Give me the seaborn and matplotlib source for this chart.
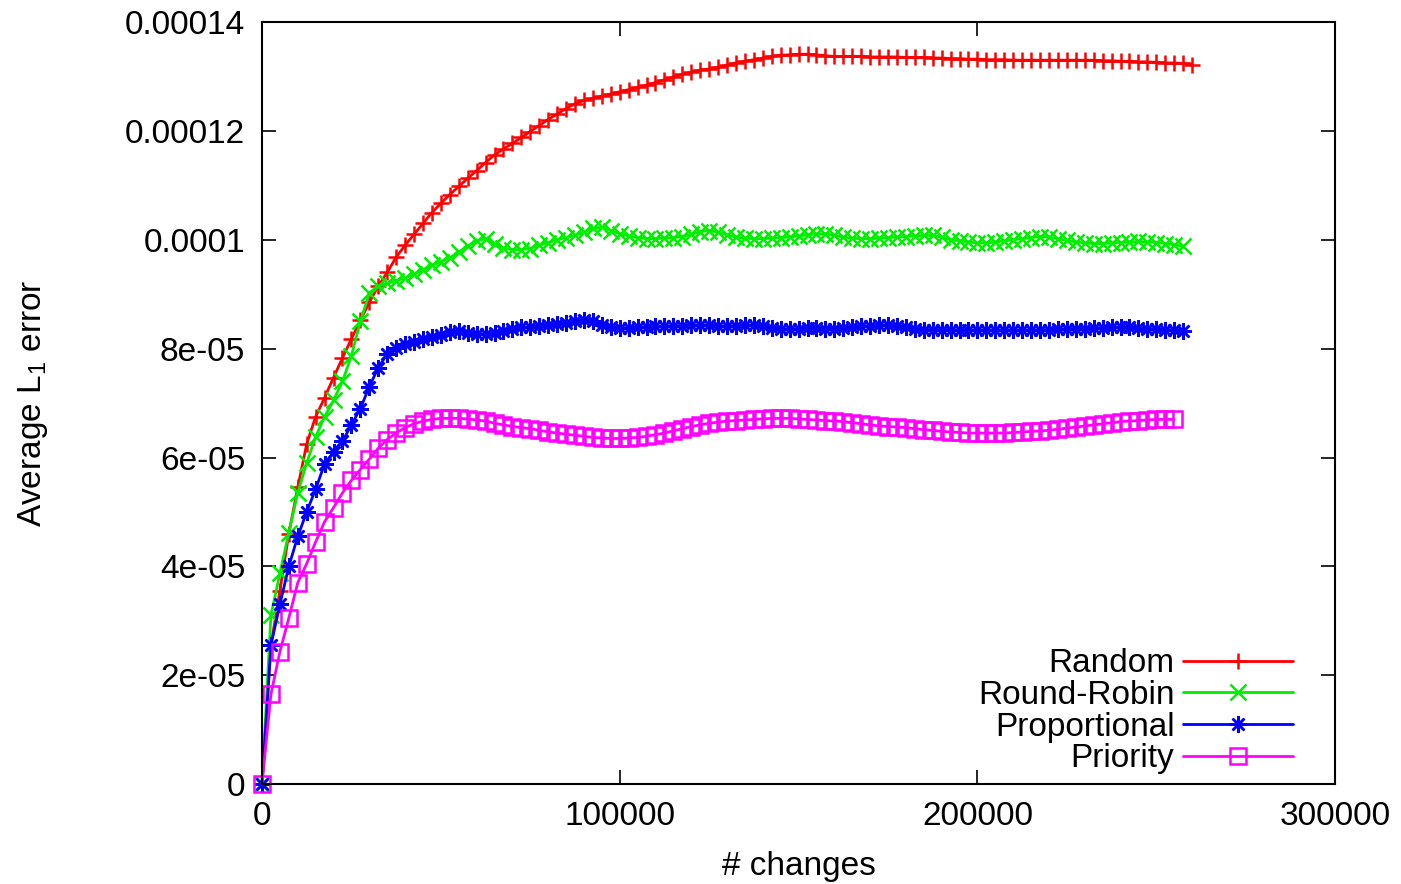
import numpy as np
import pandas as pd
import matplotlib
matplotlib.use("Agg")
import matplotlib.pyplot as plt
import seaborn as sns

# --- data (values in units of 1e-5, one point every 2500 changes) ---
STEP = 2500

random_vals = [
    0, 2.55, 3.55, 4.6, 5.45, 6.25, 6.75, 7.1, 7.47, 7.83,
    8.18, 8.52, 8.85, 9.15, 9.4, 9.68, 9.9, 10.1, 10.3, 10.5,
    10.67, 10.83, 10.98, 11.13, 11.27, 11.42, 11.56, 11.67, 11.77, 11.88,
    11.99, 12.1, 12.21, 12.31, 12.41, 12.5, 12.56, 12.6, 12.64, 12.68,
    12.72, 12.76, 12.8, 12.84, 12.89, 12.94, 12.99, 13.04, 13.08, 13.12,
    13.14, 13.17, 13.21, 13.25, 13.28, 13.31, 13.34, 13.37, 13.39, 13.40,
    13.41, 13.41, 13.40, 13.38, 13.37, 13.37, 13.37, 13.37, 13.36, 13.36,
    13.36, 13.36, 13.35, 13.35, 13.35, 13.34, 13.34, 13.33, 13.33, 13.32,
    13.32, 13.31, 13.31, 13.31, 13.30, 13.30, 13.30, 13.30, 13.30, 13.30,
    13.30, 13.30, 13.30, 13.30, 13.29, 13.29, 13.28, 13.28, 13.27, 13.27,
    13.26, 13.25, 13.25, 13.24, 13.22,
]

round_robin_vals = [
    0, 3.1, 3.87, 4.62, 5.35, 5.9, 6.38, 6.75, 7.05, 7.4,
    7.87, 8.5, 9.02, 9.15, 9.2, 9.25, 9.3, 9.37, 9.45, 9.53,
    9.6, 9.67, 9.77, 9.88, 9.98, 10.02, 9.92, 9.85, 9.82, 9.82,
    9.84, 9.9, 9.95, 10.0, 10.04, 10.08, 10.14, 10.21, 10.23, 10.17,
    10.11, 10.07, 10.04, 10.02, 10.02, 10.03, 10.04, 10.06, 10.1, 10.15,
    10.17, 10.14, 10.09, 10.05, 10.03, 10.02, 10.02, 10.03, 10.04, 10.05,
    10.07, 10.09, 10.11, 10.11, 10.08, 10.05, 10.03, 10.02, 10.02, 10.03,
    10.04, 10.05, 10.06, 10.07, 10.08, 10.08, 10.05, 10.0, 9.98, 9.96,
    9.94, 9.94, 9.96, 9.98, 10.0, 10.02, 10.04, 10.06, 10.05, 10.02,
    9.99, 9.96, 9.94, 9.93, 9.93, 9.94, 9.95, 9.96, 9.97, 9.96,
    9.95, 9.93, 9.91, 9.88,
]

proportional_vals = [
    0, 2.55, 3.3, 4.0, 4.55, 5.0, 5.42, 5.88, 6.1, 6.3,
    6.6, 6.9, 7.3, 7.65, 7.9, 8.02, 8.08, 8.13, 8.17, 8.21,
    8.26, 8.31, 8.32, 8.28, 8.27, 8.27, 8.29, 8.33, 8.37, 8.39,
    8.39, 8.41, 8.44, 8.46, 8.48, 8.51, 8.52, 8.5, 8.43, 8.39,
    8.38, 8.38, 8.39, 8.4, 8.41, 8.41, 8.42, 8.42, 8.43, 8.43,
    8.43, 8.42, 8.41, 8.42, 8.43, 8.43, 8.41, 8.38, 8.36, 8.36,
    8.37, 8.38, 8.38, 8.37, 8.37, 8.38, 8.39, 8.41, 8.42, 8.43,
    8.43, 8.42, 8.39, 8.37, 8.35, 8.35, 8.35, 8.35, 8.34, 8.34,
    8.34, 8.34, 8.34, 8.34, 8.34, 8.34, 8.34, 8.34, 8.35, 8.36,
    8.36, 8.37, 8.37, 8.38, 8.38, 8.39, 8.39, 8.39, 8.38, 8.37,
    8.36, 8.35, 8.34, 8.33,
]

priority_vals = [
    0, 1.65, 2.43, 3.05, 3.7, 4.05, 4.45, 4.82, 5.08, 5.35,
    5.58, 5.78, 5.97, 6.17, 6.33, 6.45, 6.55, 6.62, 6.67, 6.7,
    6.72, 6.72, 6.72, 6.71, 6.69, 6.67, 6.63, 6.6, 6.57, 6.55,
    6.53, 6.5, 6.47, 6.45, 6.43, 6.41, 6.39, 6.37, 6.36, 6.35,
    6.35, 6.36, 6.37, 6.39, 6.42, 6.45, 6.49, 6.53, 6.57, 6.6,
    6.63, 6.65, 6.67, 6.68, 6.69, 6.7, 6.71, 6.72, 6.72, 6.72,
    6.71, 6.7, 6.69, 6.68, 6.67, 6.66, 6.64, 6.62, 6.6, 6.58,
    6.57, 6.56, 6.55, 6.53, 6.51, 6.5, 6.48, 6.47, 6.46, 6.45,
    6.45, 6.45, 6.45, 6.45, 6.46, 6.47, 6.48, 6.49, 6.5, 6.52,
    6.54, 6.56, 6.58, 6.6, 6.62, 6.64, 6.66, 6.67, 6.68, 6.69,
    6.7, 6.7, 6.7,
]

series_names = ["Random", "Round-Robin", "Proportional", "Priority"]
series_vals = [random_vals, round_robin_vals, proportional_vals, priority_vals]
series_colors = ["#ff0000", "#00ee00", "#0000ff", "#ff00ff"]
series_markers = ["+", "x", (8, 2, 0), "s"]

y_ticks = [0, 2e-5, 4e-5, 6e-5, 8e-5, 1e-4, 1.2e-4, 1.4e-4]
y_tick_labels = ["0", "2e-05", "4e-05", "6e-05", "8e-05", "0.0001", "0.00012", "0.00014"]
x_ticks = [0, 100000, 200000, 300000]
x_tick_labels = ["0", "100000", "200000", "300000"]

# --- style ---
sns.set_style("ticks")
plt.rcParams["font.family"] = ["Liberation Sans", "DejaVu Sans"]
plt.rcParams["mathtext.fontset"] = "custom"
plt.rcParams["mathtext.rm"] = "Liberation Sans"
plt.rcParams["mathtext.it"] = "Liberation Sans:italic"
plt.rcParams["text.color"] = "black"
plt.rcParams["axes.labelcolor"] = "black"

FS = 24

fig = plt.figure(figsize=(14.01, 8.84), dpi=100)
ax = fig.add_axes([0.187, 0.113, 0.766, 0.862])

for name, vals, color, marker in zip(series_names, series_vals, series_colors, series_markers):
    df = pd.DataFrame({
        "changes": np.arange(len(vals)) * STEP,
        "error": np.array(vals) * 1e-5,
    })
    sns.lineplot(
        data=df, x="changes", y="error", ax=ax, label=name,
        color=color, marker=marker, markersize=12, markeredgewidth=1.8,
        markeredgecolor=color, markerfacecolor="none", linewidth=2,
        clip_on=False,
    )

ax.set_xlim(0, 300000)
ax.set_ylim(0, 0.00014)
ax.set_xticks(x_ticks)
ax.set_xticklabels(x_tick_labels)
ax.set_yticks(y_ticks)
ax.set_yticklabels(y_tick_labels)
ax.tick_params(direction="in", length=10, width=1.2, labelsize=FS, colors="black",
               top=True, right=True, pad=12)

for spine in ax.spines.values():
    spine.set_visible(True)
    spine.set_linewidth(1.5)
    spine.set_color("black")

ax.set_xlabel("# changes", fontsize=FS, labelpad=14)
ax.set_ylabel(r"Average L$_\mathregular{1}$ error", fontsize=FS, labelpad=54)

leg = ax.legend(
    loc="lower right", bbox_to_anchor=(0.976, -0.009), frameon=False,
    markerfirst=False, fontsize=FS, handlelength=3.3, handletextpad=0.25,
    labelspacing=0.02, borderpad=0, numpoints=1,
)
for t in leg.get_texts():
    t.set_color("black")
# right-align the legend labels like gnuplot does
for col in leg._legend_handle_box.get_children():
    col.align = "right"

fig.savefig("out.png", dpi=100)
